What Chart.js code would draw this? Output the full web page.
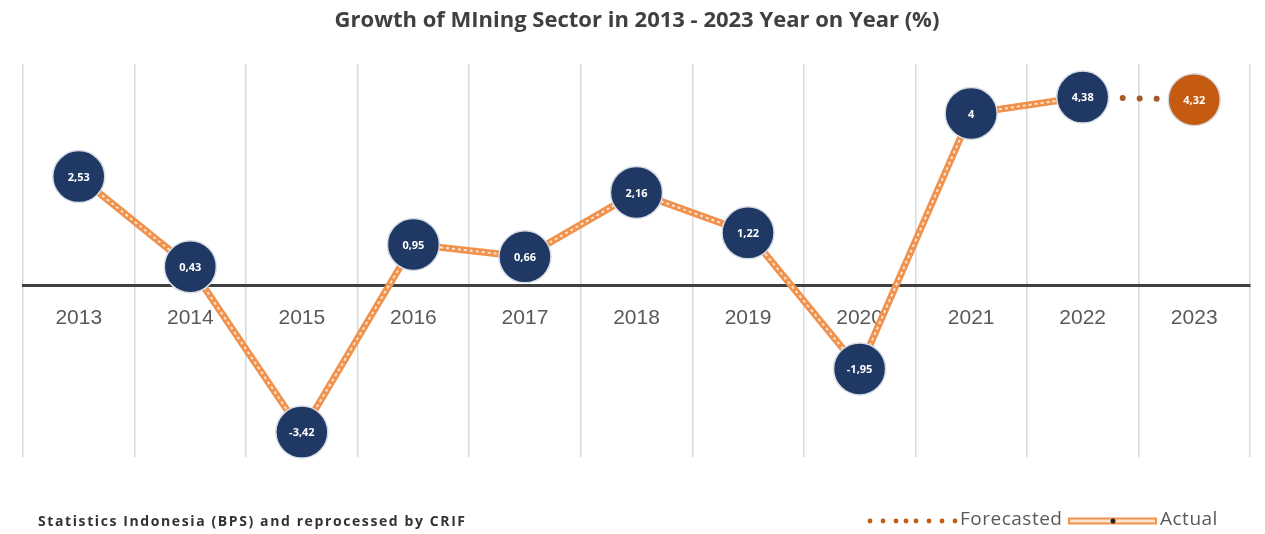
<!DOCTYPE html>
<html>
<head>
<meta charset="utf-8">
<script src="https://cdn.jsdelivr.net/npm/chart.js@4/dist/chart.umd.min.js"></script>
<style>
  html, body { margin: 0; padding: 0; background: #fff; overflow: hidden; }
  #wrap { width: 1265px; height: 534px; position: relative; }
  canvas { display: block; }
</style>
</head>
<body>
<div id="wrap"><canvas id="miningGraph"></canvas></div>
<script>
// data
var years = ['2013', '2014', '2015', '2016', '2017', '2018', '2019', '2020', '2021', '2022', '2023'];
var actualValues = [2.53, 0.43, -3.42, 0.95, 0.66, 2.16, 1.22, -1.95, 4, 4.38, null];
var forecastValues = [null, null, null, null, null, null, null, null, null, 4.38, 4.32];
var pointValues = [2.53, 0.43, -3.42, 0.95, 0.66, 2.16, 1.22, -1.95, 4, 4.38, 4.32];

var navy = '#203864';
var orange = '#f0914c';
var forecastColor = '#c55a11';
var dotColor = '#a9582a';

var pointColors = pointValues.map(function(v, i) {
  return i === pointValues.length - 1 ? forecastColor : navy;
});

// labels inside the circles, title, footer and legend
var textPlugin = {
  id: 'textPlugin',
  afterDatasetsDraw: function(chart) {
    var ctx = chart.ctx;
    var meta = chart.getDatasetMeta(0);
    ctx.save();
    ctx.fillStyle = '#fff';
    ctx.font = 'bold 11px "Open Sans"';
    ctx.textAlign = 'center';
    ctx.textBaseline = 'middle';
    meta.data.forEach(function(pt, i) {
      ctx.fillText(String(pointValues[i]).replace('.', ','), pt.x, pt.y + 1);
    });
    ctx.restore();
  },
  afterDraw: function(chart) {
    var ctx = chart.ctx;
    ctx.save();
    // title
    ctx.fillStyle = '#404040';
    ctx.font = 'bold 22px "Open Sans"';
    ctx.textAlign = 'center';
    ctx.textBaseline = 'middle';
    ctx.fillText('Growth of MIning Sector in 2013 - 2023 Year on Year (%)', 637, 21);
    // source
    ctx.font = 'bold 14px "Open Sans"';
    ctx.letterSpacing = '1.6px';
    ctx.textAlign = 'left';
    ctx.fillStyle = '#333';
    ctx.fillText('Statistics Indonesia (BPS) and reprocessed by CRIF', 38, 522);
    // legend
    ctx.font = '19px "Open Sans"';
    ctx.letterSpacing = '0.5px';
    ctx.fillStyle = '#595959';
    ctx.fillText('Forecasted', 960, 520);
    ctx.fillText('Actual', 1160, 520);
    ctx.letterSpacing = '0px';
    // forecasted sample
    ctx.fillStyle = forecastColor;
    [870, 883, 896, 906, 916, 929, 942, 955].forEach(function(x) {
      ctx.beginPath();
      ctx.arc(x, 521, 2.4, 0, Math.PI * 2);
      ctx.fill();
    });
    // actual sample
    ctx.lineWidth = 7;
    ctx.strokeStyle = orange;
    ctx.beginPath(); ctx.moveTo(1068, 521); ctx.lineTo(1157, 521); ctx.stroke();
    ctx.lineWidth = 3;
    ctx.strokeStyle = '#fbe3d2';
    ctx.beginPath(); ctx.moveTo(1070, 521); ctx.lineTo(1155, 521); ctx.stroke();
    ctx.fillStyle = '#222';
    ctx.beginPath(); ctx.arc(1113, 521, 2.5, 0, Math.PI * 2); ctx.fill();
    ctx.restore();
  }
};

new Chart(document.getElementById('miningGraph'), {
  type: 'line',
  data: {
    labels: years,
    datasets: [
      {
        label: 'points',
        data: pointValues,
        showLine: false,
        pointRadius: 26,
        pointHoverRadius: 26,
        pointBackgroundColor: pointColors,
        pointBorderColor: '#d6dce5',
        pointBorderWidth: 1.5,
        clip: false
      },
      {
        label: 'Actual inner',
        data: actualValues,
        borderColor: '#fbe3d2',
        borderWidth: 2,
        borderDash: [3, 3],
        pointRadius: 0,
        tension: 0,
        clip: false
      },
      {
        label: 'Actual',
        data: actualValues,
        borderColor: orange,
        borderWidth: 7,
        pointRadius: 0,
        tension: 0,
        clip: false
      },
      {
        label: 'Forecasted',
        data: forecastValues,
        borderColor: dotColor,
        borderWidth: 6,
        borderDash: [0, 17],
        borderDashOffset: -6,
        borderCapStyle: 'round',
        pointRadius: 0,
        tension: 0,
        clip: false
      }
    ]
  },
  options: {
    responsive: true,
    maintainAspectRatio: false,
    animation: false,
    events: [],
    layout: { autoPadding: false, padding: { left: 23, right: 15, top: 64, bottom: 77 } },
    plugins: {
      legend: { display: false },
      title: { display: false },
      tooltip: { enabled: false }
    },
    scales: {
      x: {
        position: { y: 0 },
        offset: true,
        grid: { offset: true, drawTicks: false, color: '#d9d9d9', lineWidth: 1.5 },
        border: { color: '#404040', width: 3 },
        ticks: { padding: 20, color: '#595959', font: { family: '"Liberation Sans"', size: 21 } }
      },
      y: {
        display: false,
        min: -4,
        max: 5.15
      }
    }
  },
  plugins: [textPlugin]
});
</script>
</body>
</html>
